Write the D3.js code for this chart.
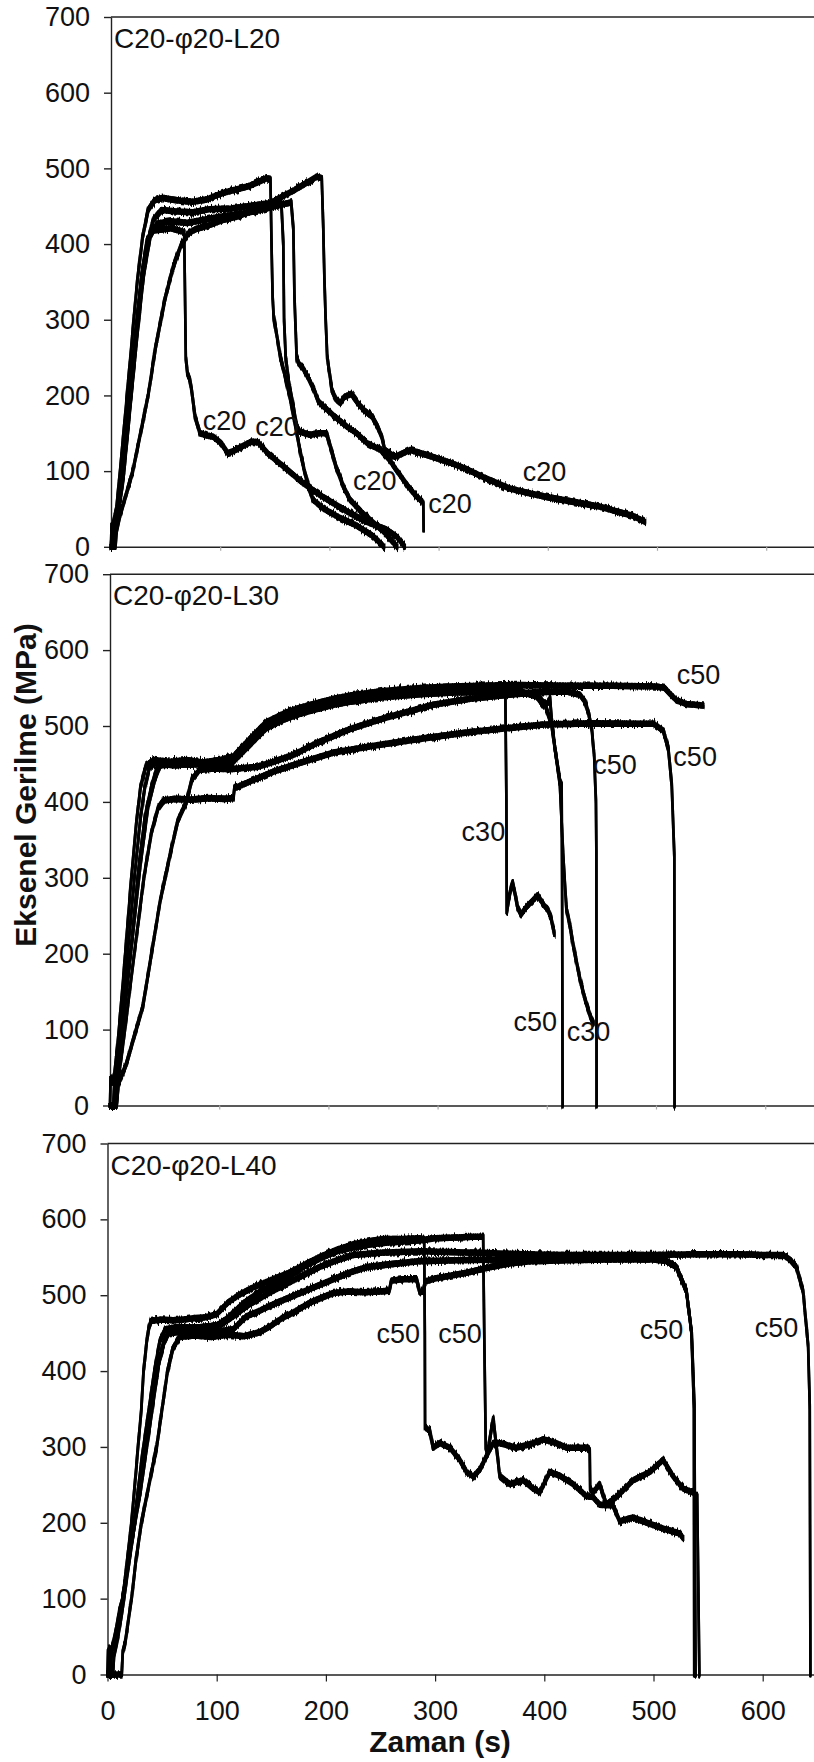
<!DOCTYPE html>
<html>
<head>
<meta charset="utf-8">
<script src="https://cdn.jsdelivr.net/npm/d3@7"></script>
<style>
  body { margin: 0; background: #fff; }
  text { font-family: "Liberation Sans", Arial, sans-serif; fill: #111; }
</style>
</head>
<body>
<svg id="chart" width="814" height="1762"></svg>
<script>
// ---- axis ticks ----
const timeTicks = [0, 100, 200, 300, 400, 500, 600];
const stressTicks = [0, 100, 200, 300, 400, 500, 600, 700];

// ---- C20-φ20-L20 : [time (s), stress (MPa)] ----
const l20A = [[0,0],[1,25],[3,32],[6,55],[10,110],[16,190],[22,280],[28,360],[33,405],[38,418],[45,419],[55,421],[62,418],[67,416],[67.8,330],[68.5,250],[70,229],[72,222],[74,205],[77,172],[81.5,150],[88,147],[94,145],[100.8,137],[107,124],[113,127],[119,132],[128.5,139],[134.7,138],[143.9,123],[158,106],[176,84],[194,66],[210,52],[222,42],[234,33],[252,23],[262,13],[269,0]];
const l20B = [[0,0],[0.5,28],[2,30],[5,50],[9,110],[14,190],[19,270],[24,350],[29,410],[34,445],[40,458],[47,461],[55,459],[65,457],[75,456],[88,459],[96,464],[104,468],[112,471],[120,474],[127,477],[135,482],[142.6,487],[146,486],[147,400],[148,330],[149,304],[152,278],[155,251],[159,229],[165,190],[169,159],[173,128],[177,101],[181,79],[185,62],[195,50],[210,38],[225,28],[240,14],[250,0]];
const l20C = [[0,0],[2,0],[3,28],[6,38],[10,80],[15,150],[21,240],[27,330],[33,400],[39,433],[46,445],[60,443],[75,442],[90,446],[110,447],[130,451],[150,455],[156,454],[157.8,400],[158.5,300],[160,250],[163,215],[167,185],[170,159],[173,152],[182,148],[190,150],[197.5,150],[200,137],[206,106],[213,79],[219,62],[230,45],[240,32],[250,20],[257,8],[262,0]];
const l20D = [[0,0],[3,0],[4,20],[7,45],[12,100],[18,190],[24,280],[30,360],[36,410],[42,427],[55,430],[70,428],[85,432],[100,436],[120,440],[140,446],[155,452],[165,455],[167,420],[168,330],[170,250],[172,242],[175.8,236],[180,225],[186,207],[190,192],[195,185],[205,172],[215.8,159],[225,150],[234.5,137],[246.7,128],[255,115],[262,100],[272,80],[280,66],[285,60],[286,56],[286.3,23]];
const l20E = [[0,0],[4,0],[5,20],[8,40],[14,70],[20,100],[27,150],[34,200],[41,265],[49,325],[57,370],[64,398],[70.8,414],[78,420],[90,425],[103,432],[115,436],[124,441],[135,446],[146,454],[157,463],[167.5,471],[178,480],[188.4,489],[193,487],[194.4,420],[195.5,350],[196.5,304],[198,251],[202.3,207],[206,195],[210,190],[213.7,198],[220,202],[226,190],[232,180],[239,172],[244,159],[248,145],[250.7,128],[259.8,119],[265,122],[274,128],[290,121],[310,111.5],[325,103],[341,92],[365,77],[385,70],[402,65],[425,59],[448,53],[465,46],[478.5,40.6],[489,33]];
const l20Labels = [["c20",84,154],["c20",132,147],["c20",221.6,75],["c20",290.5,45],["c20",377,87]];

// ---- C20-φ20-L30 ----
const l30A = [[0,0],[3,0],[4,30],[8,80],[13,150],[18,230],[23,310],[28,380],[32,420],[36,445],[42,452],[55,450],[70,452],[85,449],[100,453],[113,456],[128,479],[143,501],[160,513],[174,520],[189,526],[205,532],[220,536],[250,542],[284,546],[311,548],[340,549],[362,549],[363,400],[363.3,256],[365,270],[367.2,287],[368.7,294],[371.8,273],[373.3,261],[376.4,252],[381,261],[387.1,270],[391.7,277],[394.7,270],[397.8,263],[400.8,259],[403.9,247],[407,226]];
const l30B = [[0,0],[4,0],[5,25],[9,70],[14,140],[20,220],[26,310],[32,380],[38,420],[43,445],[48,450],[60,448],[75,451],[90,450],[105,452],[113,455],[128,477],[143,499],[160,511],[174,518],[189,524],[205,530],[220,534],[250,540],[284,544],[311,546],[340,547],[372,547],[390.7,539],[396.8,527],[401.3,531],[402.9,536],[404.5,508],[407.5,470],[412,428],[413.6,423],[414,300],[414.5,0]];
const l30C = [[0,0],[5,0],[6,30],[10,80],[16,160],[22,240],[28,320],[35,395],[41,430],[46,448],[60,450],[75,449],[90,451],[105,450],[113,453],[128,475],[143,497],[160,509],[174,516],[189,522],[205,528],[220,532],[250,538],[284,542],[311,544],[340,545],[372,545],[390,541],[398,530],[404,505],[408,465],[412,423],[415,329],[418,259],[421.4,235],[425,205],[430.6,165],[435,140],[439.7,118],[442.7,108]];
const l30D = [[0,0],[6,0],[8,30],[15,55],[22,90],[30,130],[38,200],[46,270],[55,330],[62,375],[70,400],[75,430],[82,442],[95,444],[110,443],[125,445],[134,446],[150,453],[168,462],[190,478],[220,496],[250,510],[281,522],[296,528],[330,536],[370,542],[400,545],[418.3,545.6],[430.6,541],[435.2,531.5],[438.2,517],[441.3,494],[443.4,461],[445,400],[445.4,329],[445.6,0]];
const l30E = [[0,0],[0.5,35],[2,30],[4,40],[7,80],[10,130],[14,200],[19,290],[24,370],[28,420],[33,448],[40,455],[55,453],[70,455],[85,452],[100,455],[113,460],[128,483],[143,505],[160,517],[174,524],[189,530],[205,536],[220,540],[250,546],[284,550],[311,552],[340,553],[372,554],[420,553],[460,553],[500,552],[508,550],[512.5,543],[518.6,534],[527.8,529],[543.3,527]];
const l30F = [[0,0],[6,0],[7,30],[11,70],[17,140],[24,220],[31,300],[38,360],[44,392],[49,402],[60,404],[75,403],[90,405],[105,404],[113,405],[114,418],[130,428],[150,440],[175,452],[205,465],[250,476],[284,483],[330,492],[397,502],[440,503.5],[497.6,503],[506.7,494],[511.3,470],[514.4,423],[516.8,329],[517,0]];
const l30Labels = [["c30",322,348],["c50",369.4,98.5],["c30",418.2,84.5],["c50",442.6,437],["c50",519,555],["c50",515.9,446.8]];

// ---- C20-φ20-L40 ----
const l40G = [[0,0],[0.5,30],[2,35],[3,25],[5,40],[8,60],[11,85],[14,100],[18,150],[22,200],[25,250],[28,300],[31,350],[33,400],[36,440],[38,458],[40,466],[50,468],[60,467],[70,468],[80,470],[90,471],[100,475],[110,490],[120,500],[133,510],[150,520],[167,530],[180,540],[194,550],[210,560],[225,567],[240,571],[252,574],[270,574],[286,575],[290,574],[290.6,450],[290.8,326],[295.2,321],[298.2,299],[304.3,305],[313.5,299],[322.6,283],[328.8,267],[334.9,261],[341,270],[347.1,288],[353.2,305],[359.2,305],[374.5,299],[389.8,305],[398.9,310],[411.1,305],[420.3,299],[438.6,299],[441.6,296],[442,245],[444.6,240],[450.7,251],[456.8,224],[466,234],[481.3,256],[496.6,267],[508.8,283],[518,261],[527.2,245],[536.3,240],[540,235],[541,120],[542,0]];
const l40H = [[0,0],[2,0],[3,30],[6,40],[9,55],[13,90],[18,140],[24,190],[30,240],[36,300],[42,360],[47,410],[52,440],[57,455],[70,457],[85,458],[100,460],[110,470],[125,490],[140,505],[155,515],[167,525],[180,538],[194,548],[210,558],[225,563],[240,567],[252,569],[270,571],[290,573],[300,575],[320,576],[335,577],[344,577],[345,450],[346.4,300],[348,290],[350,310],[353.2,337],[355,315],[357,290],[359.2,262],[368.4,251],[380.6,256],[389.8,245],[395.9,240],[405,267],[414.2,262],[426.4,251],[438.6,235],[444.6,234],[450.7,224],[462.9,223],[469,202],[481.3,207],[499.6,197],[511.8,191],[524,186],[527.1,180]];
const l40J = [[0,0],[13,0],[14,30],[16,40],[19,70],[22,100],[26,150],[31,200],[38,250],[45,300],[50,350],[55,400],[60,430],[66,445],[80,447],[95,445],[110,448],[125,446],[139,451],[150,460],[160,470],[170,477],[185,490],[200,499],[207,503],[220,505],[235,504],[250,505],[258,506],[260,519],[270,521],[283,521],[286,504],[289,505],[291,518],[300,522],[315,526],[330,530],[350,537],[368,542],[390,545],[420,546],[460,547],[500,547],[511.9,545],[521,537],[530.2,505],[534.8,451],[537,353],[537.3,0]];
const l40K = [[0,0],[3,0],[4,35],[7,45],[10,70],[15,110],[20,160],[26,220],[32,290],[38,350],[43,400],[48,440],[53,455],[65,458],[80,457],[95,459],[105,462],[115,472],[130,488],[148,503],[164,515],[180,527],[194,537],[210,546],[225,553],[250,556],[286,558],[310,557],[340,556],[380,554],[420,553],[460,553],[500,553],[540,554],[580,554],[600,553],[618.7,553],[625,547],[630.9,537],[637,505],[641.6,434],[643.1,353],[643.7,0]];
const l40M = [[0,0],[5,0],[6,25],[9,45],[13,80],[18,130],[24,190],[30,250],[36,310],[41,360],[46,405],[51,435],[56,450],[70,452],[85,450],[100,452],[115,455],[127,472],[140,480],[155,490],[170,499],[190,511],[207,521],[222,530],[237,537],[260,541],[286,545],[320,546],[360,547],[400,548],[450,549],[500,548],[512,545],[521,537],[530,506],[535,450],[537.5,353],[538.5,0]];
const l40Labels = [["c50",246.3,437],["c50",302.8,437],["c50",487.4,442.5],["c50",592.8,445]];

// ---- layout ----
const panels = [
  { title: "C20-φ20-L20", series: [l20A, l20B, l20C, l20D, l20E], labels: l20Labels,
    left: 111, top: 17, bottom: 546.8, timeLabels: false },
  { title: "C20-φ20-L30", series: [l30A, l30B, l30C, l30D, l30E, l30F], labels: l30Labels,
    left: 110, top: 574.2, bottom: 1105.5, timeLabels: false },
  { title: "C20-φ20-L40", series: [l40G, l40H, l40J, l40K, l40M], labels: l40Labels,
    left: 107.5, top: 1143.5, bottom: 1674.5, timeLabels: true }
];
const pxPer100s = 109.2;

const svg = d3.select("#chart");

// noisy test-record look: the scatter of the logged signal thickens the
// flat stretches (vertical spread) while the fast drops stay thin
const defs = svg.append("defs");
const f = defs.append("filter").attr("id", "rough")
  .attr("filterUnits", "userSpaceOnUse")
  .attr("x", 0).attr("y", 0).attr("width", 814).attr("height", 1762)
  .attr("color-interpolation-filters", "sRGB");
f.append("feMorphology").attr("in", "SourceGraphic").attr("operator", "dilate")
  .attr("radius", "0.4 2.1").attr("result", "thick");
f.append("feTurbulence").attr("type", "fractalNoise")
  .attr("baseFrequency", "0.7 0.03").attr("numOctaves", 2).attr("seed", 7).attr("result", "noise");
f.append("feColorMatrix").attr("in", "noise").attr("type", "matrix")
  .attr("values", "0 0 0 0 0.5  0 1 0 0 0  0 0 1 0 0  0 0 0 0 1").attr("result", "vnoise");
f.append("feDisplacementMap").attr("in", "thick").attr("in2", "vnoise")
  .attr("scale", 8).attr("xChannelSelector", "R").attr("yChannelSelector", "G").attr("result", "jit");
const merge = f.append("feMerge");
merge.append("feMergeNode").attr("in", "thick");
merge.append("feMergeNode").attr("in", "jit");

panels.forEach(p => {
  const x = d3.scaleLinear().domain([0, 700]).range([p.left, p.left + pxPer100s * 7]);
  const y = d3.scaleLinear().domain([0, 700]).range([p.bottom, p.top]);
  const g = svg.append("g");

  // frame top edge
  g.append("line")
    .attr("x1", x(0)).attr("x2", x(700)).attr("y1", y(700)).attr("y2", y(700))
    .attr("stroke", "#222").attr("stroke-width", 1.4);

  // stress axis
  const ya = g.append("g").attr("transform", `translate(${x(0)},0)`)
    .call(d3.axisLeft(y).tickValues(stressTicks).tickSize(7).tickPadding(14).tickSizeOuter(0));
  ya.select(".domain").attr("stroke", "#222").attr("stroke-width", 1.4);
  ya.selectAll(".tick line").attr("stroke", "#222").attr("stroke-width", 1.4);
  ya.selectAll(".tick text").attr("font-size", 27)
    .attr("font-family", "'Liberation Sans', Arial, sans-serif").attr("fill", "#111");

  // time axis
  const xa = g.append("g").attr("transform", `translate(0,${y(0)})`)
    .call(d3.axisBottom(x).tickValues(timeTicks)
      .tickSize(p.timeLabels ? 7 : 4).tickPadding(19).tickSizeOuter(0)
      .tickFormat(p.timeLabels ? d3.format("d") : () => ""));
  xa.select(".domain").attr("stroke", "#222").attr("stroke-width", 1.4);
  xa.selectAll(".tick line").attr("stroke", p.timeLabels ? "#222" : "#aaa").attr("stroke-width", 1.2);
  xa.selectAll(".tick text").attr("font-size", 27)
    .attr("font-family", "'Liberation Sans', Arial, sans-serif").attr("fill", "#111");

  // test records
  const line = d3.line().x(d => x(d[0])).y(d => y(d[1]));
  g.append("g").attr("filter", "url(#rough)")
    .selectAll("path").data(p.series).join("path")
    .attr("d", line)
    .attr("fill", "none").attr("stroke", "#000")
    .attr("stroke-width", 2.6).attr("stroke-linejoin", "round").attr("stroke-linecap", "round");

  // failure-mode labels
  g.selectAll("text.mode").data(p.labels).join("text").attr("class", "mode")
    .attr("x", d => x(d[1])).attr("y", d => y(d[2]))
    .attr("font-size", 27).text(d => d[0]);

  // panel title
  g.append("text").attr("x", x(0) + 3).attr("y", y(700) + 31)
    .attr("font-size", 28).text(p.title);
});

// axis titles
svg.append("text")
  .attr("transform", "translate(36,785) rotate(-90)")
  .attr("text-anchor", "middle").attr("font-size", 30).attr("font-weight", "bold")
  .text("Eksenel Gerilme (MPa)");
svg.append("text")
  .attr("x", 440).attr("y", 1752)
  .attr("text-anchor", "middle").attr("font-size", 30).attr("font-weight", "bold")
  .text("Zaman (s)");
</script>
</body>
</html>
